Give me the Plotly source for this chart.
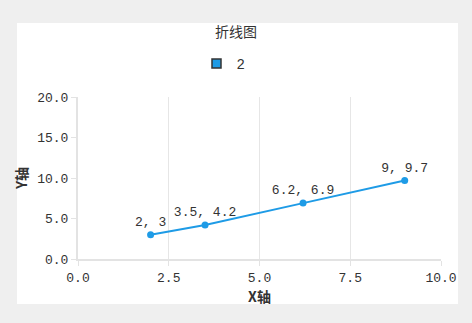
import plotly.graph_objects as go

x_vals = [2, 3.5, 6.2, 9]
y_vals = [3, 4.2, 6.9, 9.7]
series_name = "2"
point_labels = [f"{a}, {b}" for a, b in zip(x_vals, y_vals)]
title_text = "折线图"
x_title = "X轴"
y_title = "Y轴"

FONT = "Liberation Mono, Noto Sans CJK SC, monospace"
COLOR = "#1e9be6"

fig = go.Figure()
fig.add_trace(go.Scatter(
    x=x_vals, y=y_vals, name=series_name,
    mode="lines+markers+text",
    text=point_labels, textposition="top center",
    textfont=dict(family=FONT, size=13, color="#333333"),
    line=dict(color=COLOR, width=2),
    marker=dict(color=COLOR, size=7),
    showlegend=False,
))
fig.add_trace(go.Scatter(
    x=[None], y=[None], name=series_name, mode="markers",
    marker=dict(symbol="square", color=COLOR, size=9, line=dict(color="#333333", width=1.5)),
))

fig.update_layout(
    width=472, height=323,
    paper_bgcolor="#efefef", plot_bgcolor="white",
    margin=dict(l=78, r=31, t=97, b=64),
    font=dict(family=FONT, size=13, color="#333333"),
    title=dict(text=title_text, x=0.5, xanchor="center", y=1 - 32 / 323, yanchor="middle",
               font=dict(family="Noto Sans CJK SC", size=14, color="#333333")),
    legend=dict(orientation="h", x=0.5 - 36 / 363, xanchor="center", y=1 + (97 - 64) / 162, yanchor="middle",
                font=dict(family=FONT, size=14, color="#333333"), itemwidth=30, bgcolor="rgba(0,0,0,0)"),
    shapes=[dict(type="rect", xref="paper", yref="paper",
                 x0=(17 - 78) / 363, x1=(458 - 78) / 363,
                 y0=-(304 - 259) / 162, y1=1 + (97 - 23) / 162,
                 fillcolor="white", line=dict(width=0), layer="below")],
)
fig.update_xaxes(
    range=[0, 10], dtick=2.5, tickformat=".1f",
    showgrid=True, gridcolor="#e6e6e6", gridwidth=1,
    showline=True, linecolor="#e3e3e3", linewidth=2,
    ticks="outside", ticklen=5, tickcolor="#e3e3e3", zeroline=False,
    title=dict(text=f"<b>{x_title}</b>", font=dict(family="Noto Sans CJK SC", size=14, color="#333333"), standoff=0),
)
fig.update_yaxes(
    range=[0, 20], dtick=5, tickformat=".1f",
    showgrid=False,
    showline=True, linecolor="#e3e3e3", linewidth=2,
    ticks="outside", ticklen=5, tickcolor="#e3e3e3", zeroline=False,
    title=dict(text=f"<b>{y_title}</b>", font=dict(family="Noto Sans CJK SC", size=14, color="#333333"), standoff=6),
)
fig.write_html("out.html")
